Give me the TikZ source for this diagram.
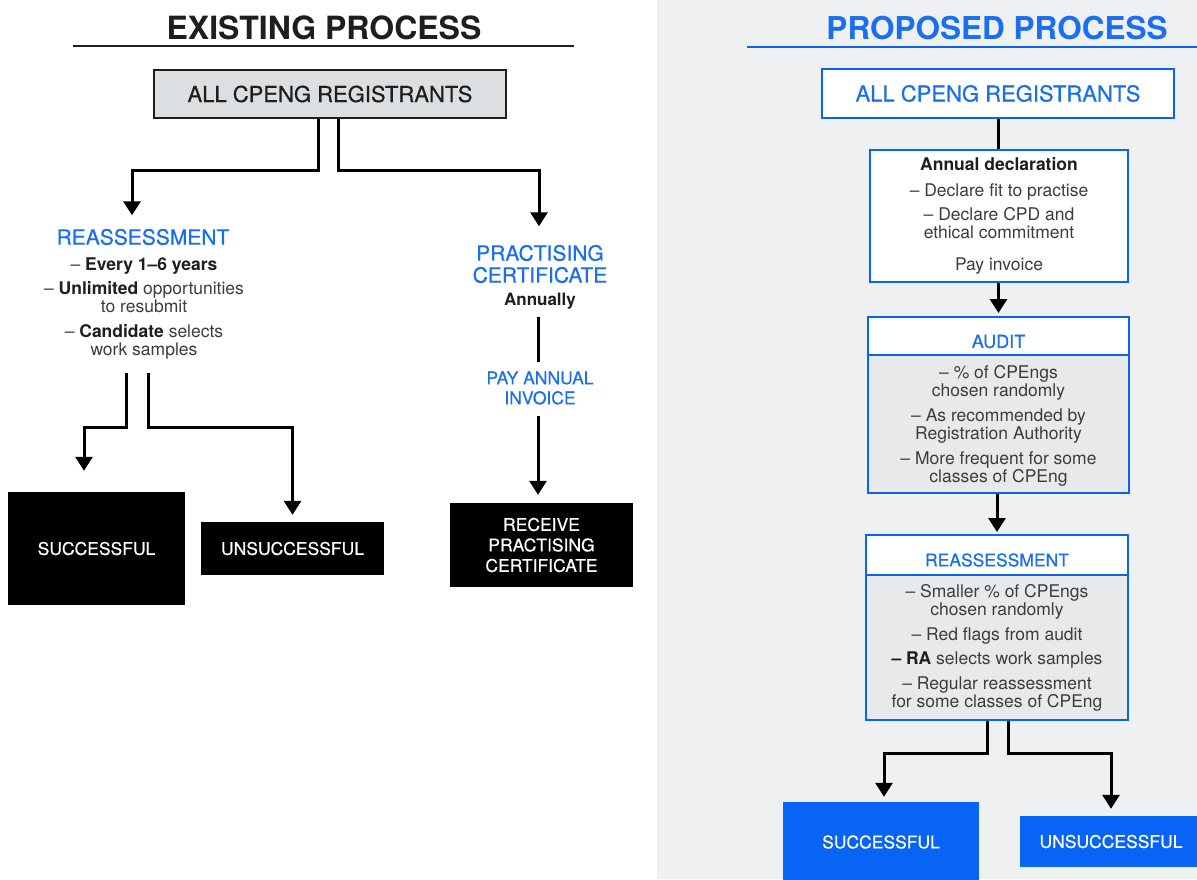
\documentclass[tikz,border=0pt]{standalone}
\usepackage{fontspec}
\setmainfont{TeX Gyre Heros}
\newfontfamily\medfont[FakeBold=0.5]{TeX Gyre Heros}
\usetikzlibrary{arrows.meta}
\definecolor{bluetxt}{RGB}{26,110,240}
\definecolor{bluebox}{RGB}{8,100,245}
\definecolor{bgR}{RGB}{239,240,242}
\definecolor{grayfill}{RGB}{220,223,225}
\definecolor{bodyfill}{RGB}{231,233,235}
\definecolor{txt}{RGB}{60,60,60}
\definecolor{txtdark}{RGB}{30,30,30}
\newcommand{\fsz}[2]{\fontsize{#1}{#2}\selectfont}
\tikzset{
  conn/.style={line width=3pt, draw=black, -{Triangle[width=17pt,length=14pt]}},
  plainline/.style={line width=3pt, draw=black},
  txtnode/.style={inner sep=0pt, align=center},
  bluehdr/.style={fill=white, draw=bluebox, line width=2pt, inner sep=0pt},
  blackbox/.style={fill=black, text=white, inner sep=0pt, align=center, font=\medfont\fsz{17.5}{20.5}},
  bluefill/.style={fill=bluebox, text=white, inner sep=0pt, align=center, font=\medfont\fsz{17.5}{20.5}},
}
\begin{document}
\begin{tikzpicture}[x=1pt,y=-1pt]
\useasboundingbox (0,0) rectangle (1197,879);
\fill[white] (0,0) rectangle (657,879);
\fill[bgR] (657,0) rectangle (1197,879);

% ---------------- EXISTING PROCESS ----------------
\node[txtnode, font=\bfseries\fsz{32}{36}, text=txtdark] (exTitle) at (324,28) {EXISTING PROCESS};
\draw[line width=1.8pt, draw=txtdark] (73,46) -- (574,46);

\node[draw=txtdark, fill=grayfill, line width=1.5pt, minimum width=352pt, minimum height=48pt,
      inner sep=0pt, font=\medfont\fsz{22}{26}, text=txtdark] (exReg) at (330,94) {ALL CPENG REGISTRANTS};

\node[txtnode, font=\medfont\fsz{21}{25}, text=bluetxt] (exReas) at (143,237) {REASSESSMENT};
\node[txtnode, font=\fsz{17.5}{18.5}, text=txt] (exList) at (144,308.6)
  {– {\color{txtdark}\bfseries Every 1–6 years}\\[5.5pt]
   – {\color{txtdark}\bfseries Unlimited} opportunities\\to resubmit\\[6pt]
   – {\color{txtdark}\bfseries Candidate} selects\\work samples};

\node[txtnode, font=\medfont\fsz{21}{22}, text=bluetxt] (exPC) at (540,264) {PRACTISING\\CERTIFICATE};
\node[txtnode, font=\bfseries\fsz{17}{20}, text=txtdark] (exAnn) at (540,301) {Annually};
\node[txtnode, font=\medfont\fsz{17.5}{20}, text=bluetxt] (exPay) at (540,388) {PAY ANNUAL\\INVOICE};

\node[blackbox, minimum width=183pt, minimum height=84pt] (exRecv) at (541.5,545) {RECEIVE\\PRACTISING\\CERTIFICATE};
\node[blackbox, minimum width=177pt, minimum height=113pt] (exSucc) at (96.5,548.5) {SUCCESSFUL};
\node[blackbox, minimum width=183pt, minimum height=53pt] (exUnsucc) at (292.5,548.5) {UNSUCCESSFUL};

\draw[conn, shorten >=13.5pt] ([xshift=-12pt]exReg.south) -- ++(0,52) -| ([xshift=-11pt]exReas.north);
\draw[conn, shorten >=18.5pt] ([xshift=8pt]exReg.south) -- ++(0,52) -| ([xshift=-1pt]exPC.north);
\draw[plainline, shorten <=8pt, shorten >=9.5pt] ([xshift=-2pt]exAnn.south) -- ([xshift=-2pt]exPay.north);
\draw[conn, shorten <=11pt, shorten >=8pt] ([xshift=-2pt]exPay.south) -- ([xshift=-2pt]exPay.south |- exRecv.north);
\draw[conn, shorten <=13.5pt, shorten >=21pt] ([xshift=-18pt]exList.south) -- ++(0,67.5) -| ([xshift=-12.5pt]exSucc.north);
\draw[conn, shorten <=13.5pt, shorten >=7pt] ([xshift=4pt]exList.south) -- ++(0,67.5) -| (exUnsucc.north);

% ---------------- PROPOSED PROCESS ----------------
\node[txtnode, font=\bfseries\fsz{31.5}{36}, text=bluetxt] (prTitle) at (997,28) {PROPOSED PROCESS};
\draw[line width=2pt, draw=bluebox] (747,47) -- (1197,47);

\node[bluehdr, minimum width=352pt, minimum height=49pt, font=\medfont\fsz{22}{26}, text=bluetxt] (prReg) at (998,93.5) {ALL CPENG REGISTRANTS};

\node[bluehdr, minimum width=258pt, minimum height=132pt, align=center, font=\fsz{17.5}{18.5}, text=txt] (prDecl) at (999,216)
  {{\color{txtdark}\bfseries Annual declaration}\\[7.5pt]
   – Declare fit to practise\\[5.5pt]
   – Declare CPD and\\ethical commitment\\[13.5pt]
   Pay invoice};

% Audit
\node[fill=bodyfill, draw=bluebox, line width=2pt, minimum width=261pt, minimum height=176pt, inner sep=0pt] (prAudit) at (998.5,405) {};
\node[bluehdr, minimum width=261pt, minimum height=38pt, anchor=north] (prAuditH) at (prAudit.north) {};
\node[txtnode, font=\medfont\fsz{18}{20}, text=bluetxt] (prAuditL) at (998.5,341.5) {AUDIT};
\node[txtnode, font=\fsz{17.5}{18.5}, text=txt] (prAuditT) at (998.5,425.7)
  {– \% of CPEngs\\chosen randomly\\[6pt]
   – As recommended by\\Registration Authority\\[6pt]
   – More frequent for some\\classes of CPEng};

% Reassessment
\node[fill=bodyfill, draw=bluebox, line width=2pt, minimum width=262pt, minimum height=185pt, inner sep=0pt] (prReas) at (997,627.5) {};
\node[bluehdr, minimum width=262pt, minimum height=40pt, anchor=north] (prReasH) at (prReas.north) {};
\node[txtnode, font=\medfont\fsz{17.5}{20}, text=bluetxt] (prReasL) at (997,560) {REASSESSMENT};
\node[txtnode, font=\fsz{17.5}{18}, text=txt] (prReasT) at (997,647.7)
  {– Smaller \% of CPEngs\\chosen randomly\\[6.5pt]
   – Red flags from audit\\[6.5pt]
   {\color{txtdark}\bfseries – RA} selects work samples\\[6.5pt]
   – Regular reassessment\\for some classes of CPEng};

\node[bluefill, minimum width=196pt, minimum height=80pt] (prSucc) at (881,842) {SUCCESSFUL};
\node[bluefill, minimum width=182pt, minimum height=51pt] (prUnsucc) at (1111,841.5) {UNSUCCESSFUL};

\draw[plainline] (prReg.south) -- (prReg.south |- prDecl.north);
\draw[conn, shorten >=3pt] (prDecl.south -| prAuditH.north) -- (prAuditH.north);
\draw[conn, shorten >=2pt] (prAudit.south -| prReasH.north) -- (prReasH.north);
\draw[conn, shorten >=5pt] ([xshift=-10pt]prReas.south) -- ++(0,32) -| ([xshift=3pt]prSucc.north);
\draw[conn, shorten >=7pt] ([xshift=11pt]prReas.south) -- ++(0,32) -| (prUnsucc.north);
\end{tikzpicture}
\end{document}
